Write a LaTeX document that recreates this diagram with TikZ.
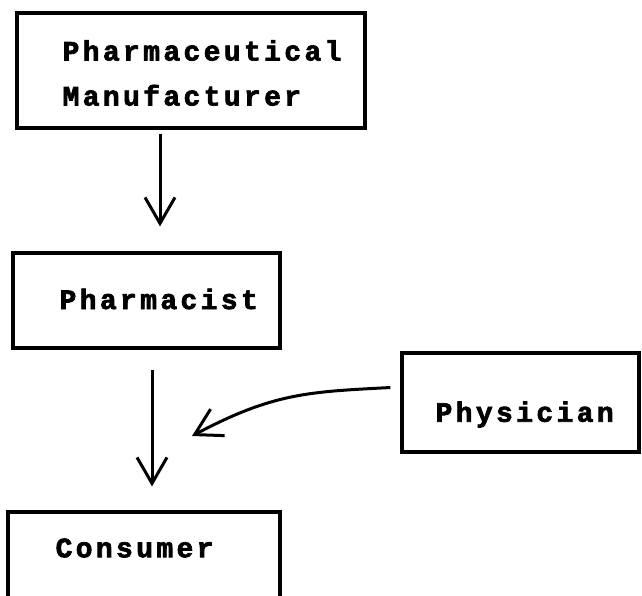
\documentclass[tikz,border=0pt]{standalone}
\usepackage{fontspec}
\setmonofont{Liberation Mono}
\usetikzlibrary{arrows.meta, positioning}

\begin{document}
\begin{tikzpicture}[
    x=1pt, y=-1pt,
    stagebox/.style={rectangle, draw, line width=3.2pt, inner sep=0pt},
    boxtext/.style={inner sep=0pt, align=left, font=\ttfamily\bfseries\fontsize{28}{45}\selectfont\addfontfeature{LetterSpace=12, FakeBold=2.5}},
    arrow/.style={-{Straight Barb[length=26pt, width=30pt]}, line width=3pt}
]
\useasboundingbox (0,0) rectangle (642,596);
\clip (0,0) rectangle (642,596);

% Boxes
\node[stagebox, minimum width=348pt, minimum height=115pt] (manuf) at (191,70.5) {};
\node[stagebox, minimum width=267pt, minimum height=95pt] (pharm) at (146.5,300.5) {};
\node[stagebox, minimum width=237pt, minimum height=99pt] (phys) at (520.5,402.5) {};
\node[stagebox, minimum width=272pt, minimum height=88pt] (cons) at (144,556) {};

% Texts
\node[boxtext, right=47pt of manuf.west, yshift=-2.5pt] (manuftxt) {Pharmaceutical\\Manufacturer};
\node[boxtext, right=48pt of pharm.west, yshift=1.5pt] (pharmtxt) {Pharmacist};
\node[boxtext, right=35pt of phys.west, yshift=-12pt] (phystxt) {Physician};
\node[boxtext, right=49pt of cons.west, yshift=8pt] (constxt) {Consumer};

% Arrows
\coordinate (rx) at (192,436);
\draw[arrow, shorten <=4pt, shorten >=25pt] ([xshift=-31pt]manuf.south) -- ([xshift=13.5pt]pharm.north);
\draw[arrow, shorten <=20pt, shorten >=24pt] ([xshift=5.5pt]pharm.south) -- ([xshift=8pt]cons.north);
\draw[arrow, shorten <=10pt] ([yshift=15.5pt]phys.west) to[out=183, in=28, looseness=1.1] (rx);

\end{tikzpicture}
\end{document}
